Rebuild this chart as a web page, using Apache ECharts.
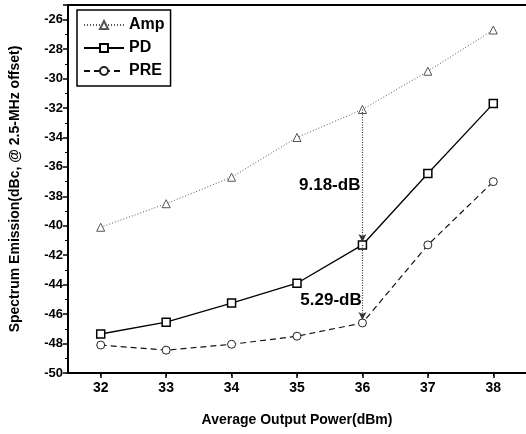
<!DOCTYPE html>
<html><head><meta charset="utf-8">
<script src="https://cdn.jsdelivr.net/npm/echarts@6/dist/echarts.min.js"></script>
<style>html,body{margin:0;padding:0;background:#fff}#c{width:526px;height:434px}</style>
</head><body><div id="c"></div>
<script>
const xValues = [32, 33, 34, 35, 36, 37, 38];
const ampValues = [-40.1, -38.5, -36.7, -34.0, -32.1, -29.5, -26.7];
const pdValues = [-47.35, -46.55, -45.25, -43.9, -41.3, -36.45, -31.7];
const preValues = [-48.1, -48.45, -48.05, -47.5, -46.6, -41.3, -37.0];
const seriesNames = ['Amp', 'PD', 'PRE'];
const annotations = [
  {text: '9.18-dB', x: 35.5, y: -37.25},
  {text: '5.29-dB', x: 35.52, y: -45.05}
];
const F = 'Arial, "Liberation Sans", sans-serif';
const pairs = v => xValues.map((x, i) => [x, v[i]]);
const chart = echarts.init(document.getElementById('c'));
chart.setOption({
  animation: false,
  backgroundColor: '#fff',
  grid: {left: 68, right: -3, top: 5, bottom: 61, show: false},
  xAxis: {
    type: 'value', min: 31.5, max: 38.5, interval: 1,
    axisLine: {show: true, onZero: false, lineStyle: {color: '#000', width: 2}},
    axisTick: {show: true, inside: false, length: 5, lineStyle: {color: '#000', width: 1.5},
      customValues: xValues},
    minorTick: {show: true, splitNumber: 2, length: 3, lineStyle: {color: '#000'}},
    axisLabel: {color: '#000', fontFamily: F, fontWeight: 'bold', fontSize: 14, margin: 8,
      customValues: xValues},
    splitLine: {show: false},
    name: 'Average Output Power(dBm)', nameLocation: 'middle', nameGap: 40,
    nameTextStyle: {color: '#000', fontFamily: F, fontWeight: 'bold', fontSize: 14}
  },
  yAxis: {
    type: 'value', min: -50, max: -25, interval: 2,
    axisLine: {show: true, onZero: false, lineStyle: {color: '#000', width: 2}},
    axisTick: {show: true, inside: false, length: 5, lineStyle: {color: '#000', width: 1.5}},
    minorTick: {show: true, splitNumber: 2, length: 3, lineStyle: {color: '#000'}},
    axisLabel: {color: '#000', fontFamily: F, fontWeight: 'bold', fontSize: 13, margin: 5,
      formatter: v => (v > -25.5 ? '' : v)},
    splitLine: {show: false},
    name: 'Spectrum Emission(dBc, @ 2.5-MHz offset)', nameLocation: 'middle', nameGap: 46,
    nameTextStyle: {color: '#000', fontFamily: F, fontWeight: 'bold', fontSize: 14}
  },
  legend: {
    left: 77, top: 10, orient: 'vertical', itemGap: 7, itemWidth: 40, itemHeight: 10,
    padding: [7, 6, 7, 6],
    borderColor: '#000', borderWidth: 1.5, backgroundColor: '#fff',
    textStyle: {color: '#000', fontFamily: F, fontWeight: 'bold', fontSize: 16},
    data: seriesNames
  },
  series: [
    {
      name: seriesNames[0], type: 'line', data: pairs(ampValues),
      symbol: 'triangle', symbolSize: 8, showSymbol: true,
      lineStyle: {color: '#555', width: 1, type: [1, 2]},
      itemStyle: {color: '#fff', borderColor: '#555', borderWidth: 1},
      markLine: {
        silent: true, symbol: ['none', 'arrow'], symbolSize: [6, 8],
        lineStyle: {color: '#333', width: 1.2, type: [1, 1.5]},
        label: {show: false},
        data: [
          [{coord: [36, ampValues[4]]}, {coord: [36, pdValues[4] + 0.2]}],
          [{coord: [36, pdValues[4]]}, {coord: [36, preValues[4] + 0.2]}]
        ]
      }
    },
    {
      name: seriesNames[1], type: 'line', data: pairs(pdValues),
      symbol: 'rect', symbolSize: 8, showSymbol: true,
      lineStyle: {color: '#000', width: 1.3},
      itemStyle: {color: '#fff', borderColor: '#000', borderWidth: 1.5}
    },
    {
      name: seriesNames[2], type: 'line', data: pairs(preValues),
      symbol: 'circle', symbolSize: 8, showSymbol: true,
      lineStyle: {color: '#111', width: 1.2, type: [6, 4]},
      itemStyle: {color: '#fff', borderColor: '#222', borderWidth: 1},
      markPoint: {
        silent: true, symbol: 'circle', symbolSize: 0,
        label: {show: true, color: '#000', fontFamily: F, fontSize: 17, fontWeight: 'bold',
          formatter: p => p.name},
        data: annotations.map(a => ({name: a.text, coord: [a.x, a.y]}))
      }
    }
  ],
  graphic: [{type: 'line', shape: {x1: 68, y1: 5, x2: 526, y2: 5}, style: {stroke: '#000', lineWidth: 2}}]
});
</script></body></html>
